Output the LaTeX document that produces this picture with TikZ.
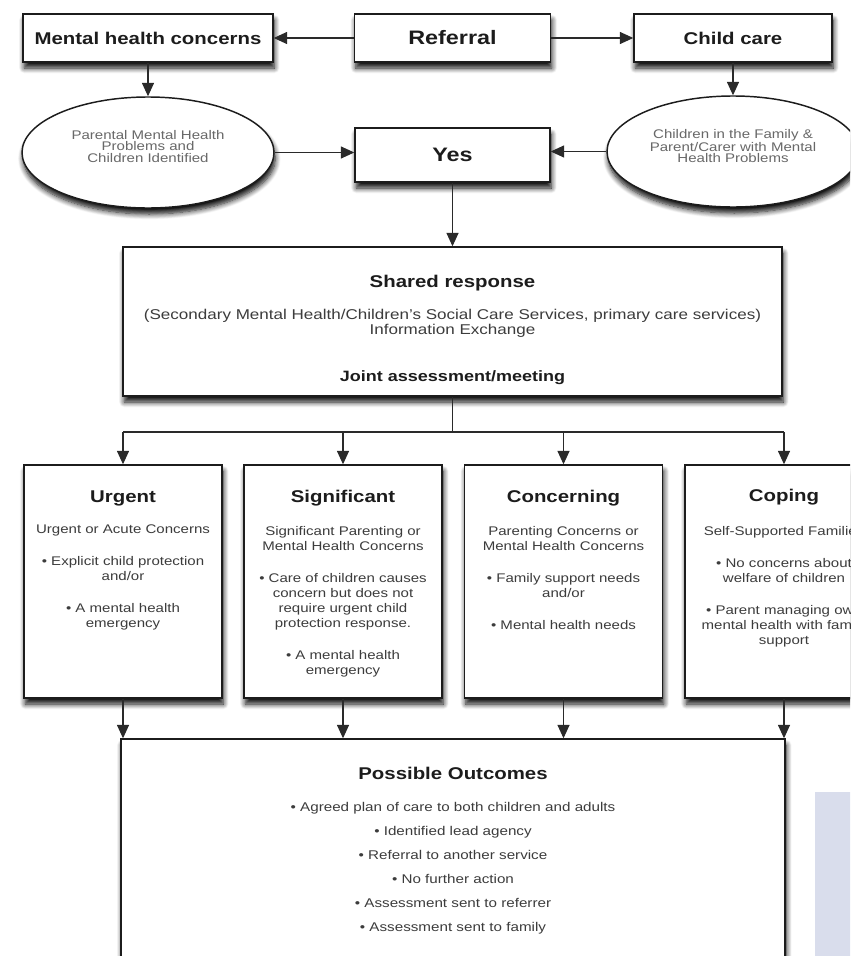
\documentclass[tikz,border=0pt]{standalone}
\usepackage{fontspec}
\setmainfont{Liberation Sans}[FakeStretch=1.2]
\usetikzlibrary{arrows.meta,positioning,shapes.geometric,shadows.blur}
\definecolor{ink}{HTML}{1C1C1C}
\definecolor{bodygray}{HTML}{3C3C3C}
\definecolor{muted}{HTML}{686868}
\definecolor{wire}{HTML}{2A2A2A}
\definecolor{haze}{HTML}{D9DDEC}
\tikzset{
  boxshadow/.style={blur shadow={shadow xshift=1pt,shadow yshift=-4.5pt,shadow blur radius=4pt,shadow blur steps=8,shadow opacity=95}},
  basebox/.style={draw=ink,fill=white,line width=1.1pt,inner sep=0pt,boxshadow},
  topbox/.style={basebox,minimum width=147pt,minimum height=36pt,font=\fontsize{12.75}{15}\selectfont\bfseries,text=ink},
  bigbox/.style={topbox,font=\fontsize{14.6}{17}\selectfont\bfseries},
  oval/.style={ellipse,draw=ink,fill=white,line width=1.1pt,inner sep=0pt,minimum width=189pt,minimum height=83.25pt,boxshadow},
  ovaltext/.style={align=center,inner sep=0pt,font=\fontsize{9.4}{8.6}\selectfont,text=muted},
  levelbox/.style={basebox,minimum width=148.5pt,minimum height=174.75pt},
  headtext/.style={inner sep=0pt,font=\fontsize{12.75}{15}\selectfont\bfseries,text=ink},
  bodytext/.style={anchor=north,align=center,inner sep=0pt,font=\fontsize{9.4}{11.25}\selectfont,text=bodygray},
  arrow/.style={-{Triangle[length=10pt,width=9pt]},line width=0.8pt,draw=wire},
  wire/.style={line width=0.8pt,draw=wire}
}
\def\gap{\\[12.75pt]}

\begin{document}
\begin{tikzpicture}[x=0.75pt,y=-0.75pt]
  \useasboundingbox (0,0) rectangle (850,956);
  \clip (0,0) rectangle (850,956);
  \def\toprow{38}
  \def\levely{581.5}
  \fill[haze] (815,792) rectangle (860,970);

  % referral row
  \node[topbox,minimum width=187.5pt] (mhc) at (148,\toprow) {Mental health concerns};
  \node[bigbox] (referral) at (452.5,\toprow) {Referral};
  \node[topbox,minimum width=148.5pt] (childcare) at (733,\toprow) {Child care};
  \draw[arrow] (referral.west) -- (mhc.east);
  \draw[arrow] (referral.east) -- (childcare.west);

  % ovals and yes
  \node[oval] (parental) at (148,152.5) {};
  \node[ovaltext] (parentalTxt) at ([yshift=4.5pt]parental.center) {Parental Mental Health\\Problems and\\Children Identified};
  \node[oval] (children) at (733,151.5) {};
  \node[ovaltext] (childrenTxt) at ([yshift=4pt]children.center) {Children in the Family \&\\Parent/Carer with Mental\\Health Problems};
  \node[bigbox,minimum width=146.25pt,minimum height=40.5pt] (yes) at (452.5,155) {Yes};
  \draw[arrow] (mhc.south) -- (parental.north);
  \draw[arrow] (childcare.south) -- (children.north);
  \draw[arrow] (parental.east) -- (parental.east -| yes.west);
  \draw[arrow] (children.west) -- (children.west -| yes.east);

  % shared response
  \node[basebox,minimum width=494.25pt,minimum height=111.75pt] (shared) at (452.5,321.5) {};
  \node[headtext] (sharedHead) at (452.5,283.5) {Shared response};
  \node[align=center,inner sep=0pt,font=\fontsize{10.65}{9.2}\selectfont,text=bodygray] (sharedTxt) at (452.5,323.5)
    {(Secondary Mental Health/Children’s Social Care Services, primary care services)\\Information Exchange};
  \node[inner sep=0pt,font=\fontsize{11.25}{13}\selectfont\bfseries,text=ink] (joint) at (452.5,377.5) {Joint assessment/meeting};
  \draw[arrow] (yes.south) -- (yes.south |- shared.north);

  % levels
  \foreach \name/\x in {urgent/123,significant/343,concerning/563.5,coping/784}
    \node[levelbox] (\name) at (\x,\levely) {};
  \coordinate (split) at (452.5,432);
  \draw[wire] (shared.south) -- (split);
  \draw[wire] (urgent.north |- split) -- (coping.north |- split);
  \foreach \name in {urgent,significant,concerning,coping}
    \draw[arrow] (\name.north |- split) -- (\name.north);

  \node[headtext] (urgentHead) at (123,498.5) {Urgent};
  \node[headtext] (significantHead) at (343,498.5) {Significant};
  \node[headtext] (concerningHead) at (563.5,498.5) {Concerning};
  \node[headtext] (copingHead) at (784,497) {Coping};
  \node[bodytext] (urgentTxt) at (123,524.5) {Urgent or Acute Concerns\gap
    • Explicit child protection\\and/or\gap • A mental health\\emergency};
  \node[bodytext] (significantTxt) at (343,526.5) {Significant Parenting or\\Mental Health Concerns\gap
    • Care of children causes\\concern but does not\\require urgent child\\protection response.\gap
    • A mental health\\emergency};
  \node[bodytext] (concerningTxt) at (563.5,526.5) {Parenting Concerns or\\Mental Health Concerns\gap
    • Family support needs\\and/or\gap • Mental health needs};
  \node[bodytext] (copingTxt) at (784,526) {Self-Supported Families\gap
    • No concerns about\\welfare of children\gap • Parent managing own\\mental health with family\\support};

  % outcomes
  \node[basebox,minimum width=498pt,minimum height=225pt] (outcomes) at (453,889) {};
  \foreach \name in {urgent,significant,concerning,coping}
    \draw[arrow] (\name.south) -- (\name.south |- outcomes.north);
  \node[headtext] (outcomesHead) at (453,773) {Possible Outcomes};
  \node[bodytext,font=\fontsize{9.5}{18}\selectfont] (outcomesTxt) at (453,802.5)
    {• Agreed plan of care to both children and adults\\• Identified lead agency\\• Referral to another service\\
     • No further action\\• Assessment sent to referrer\\• Assessment sent to family};
\end{tikzpicture}
\end{document}
